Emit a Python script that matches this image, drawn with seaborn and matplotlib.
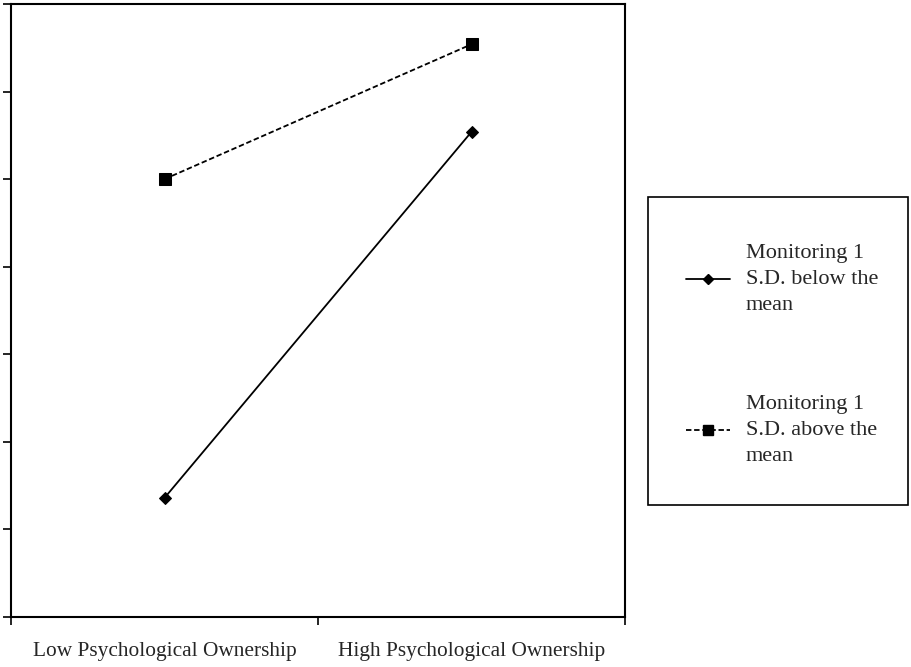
import numpy as np
import pandas as pd
import matplotlib
matplotlib.use("Agg")
import matplotlib.pyplot as plt
import seaborn as sns
from matplotlib.lines import Line2D
from matplotlib.patches import Rectangle

# dados
categorias = ["Low Psychological Ownership", "High Psychological Ownership"]
abaixo_media = [1.36, 5.54]   # Monitoring 1 S.D. below the mean
acima_media = [5.00, 6.54]    # Monitoring 1 S.D. above the mean
rotulos = ["Monitoring 1\nS.D. below the\nmean", "Monitoring 1\nS.D. above the\nmean"]

sns.set_theme(style="ticks")
plt.rcParams["font.family"] = ["Liberation Serif", "DejaVu Serif"]

df = pd.DataFrame({
    "x": [0.5, 1.5, 0.5, 1.5],
    "y": abaixo_media + acima_media,
    "grupo": ["abaixo", "abaixo", "acima", "acima"],
})

fig = plt.figure(figsize=(9.11, 6.67), dpi=100)
ax = fig.add_axes([11 / 911, 50 / 667, 614 / 911, 613 / 667])

sns.lineplot(data=df[df.grupo == "abaixo"], x="x", y="y", ax=ax, color="black",
             lw=1.3, marker="D", markersize=6, markeredgecolor="black")
sns.lineplot(data=df[df.grupo == "acima"], x="x", y="y", ax=ax, color="black",
             lw=1.3, ls=(0, (3, 1.5)), marker="s", markersize=8, markeredgecolor="black")

ax.set_xlim(0, 2)
ax.set_ylim(0, 7)
ax.set_yticks(np.arange(0, 8, 1))
ax.set_yticklabels([])
ax.set_xticks([0, 1, 2])
ax.set_xticklabels([])
ax.set_xticks([0.5, 1.5], minor=True)
ax.set_xticklabels(categorias, minor=True, fontsize=15.4)
ax.tick_params(axis="x", which="minor", length=0, pad=18)
ax.tick_params(axis="both", which="major", length=6, width=1.2, color="black", direction="out")
ax.set_xlabel("")
ax.set_ylabel("")
for s in ax.spines.values():
    s.set_color("black")
    s.set_linewidth(1.5)

# caixa da legenda desenhada à parte
fig.patches.append(Rectangle((648 / 911, 1 - 505 / 667), 260 / 911, 308 / 667,
                             transform=fig.transFigure, fill=False,
                             edgecolor="black", lw=1.2))

handles = [
    Line2D([], [], color="black", lw=1.3, marker="D", markersize=5),
    Line2D([], [], color="black", lw=1.3, ls=(0, (3, 1.5)), marker="s", markersize=7),
]
leg = fig.legend(handles, rotulos, loc="center", bbox_to_anchor=(782 / 911, 1 - 355 / 667),
                 fontsize=16, frameon=False,
                 handlelength=2.0, borderpad=0.5, labelspacing=3.6, handletextpad=0.68)
for t in leg.get_texts():
    t.set_linespacing(1.5)

fig.savefig("out.png", dpi=100, facecolor="white")
